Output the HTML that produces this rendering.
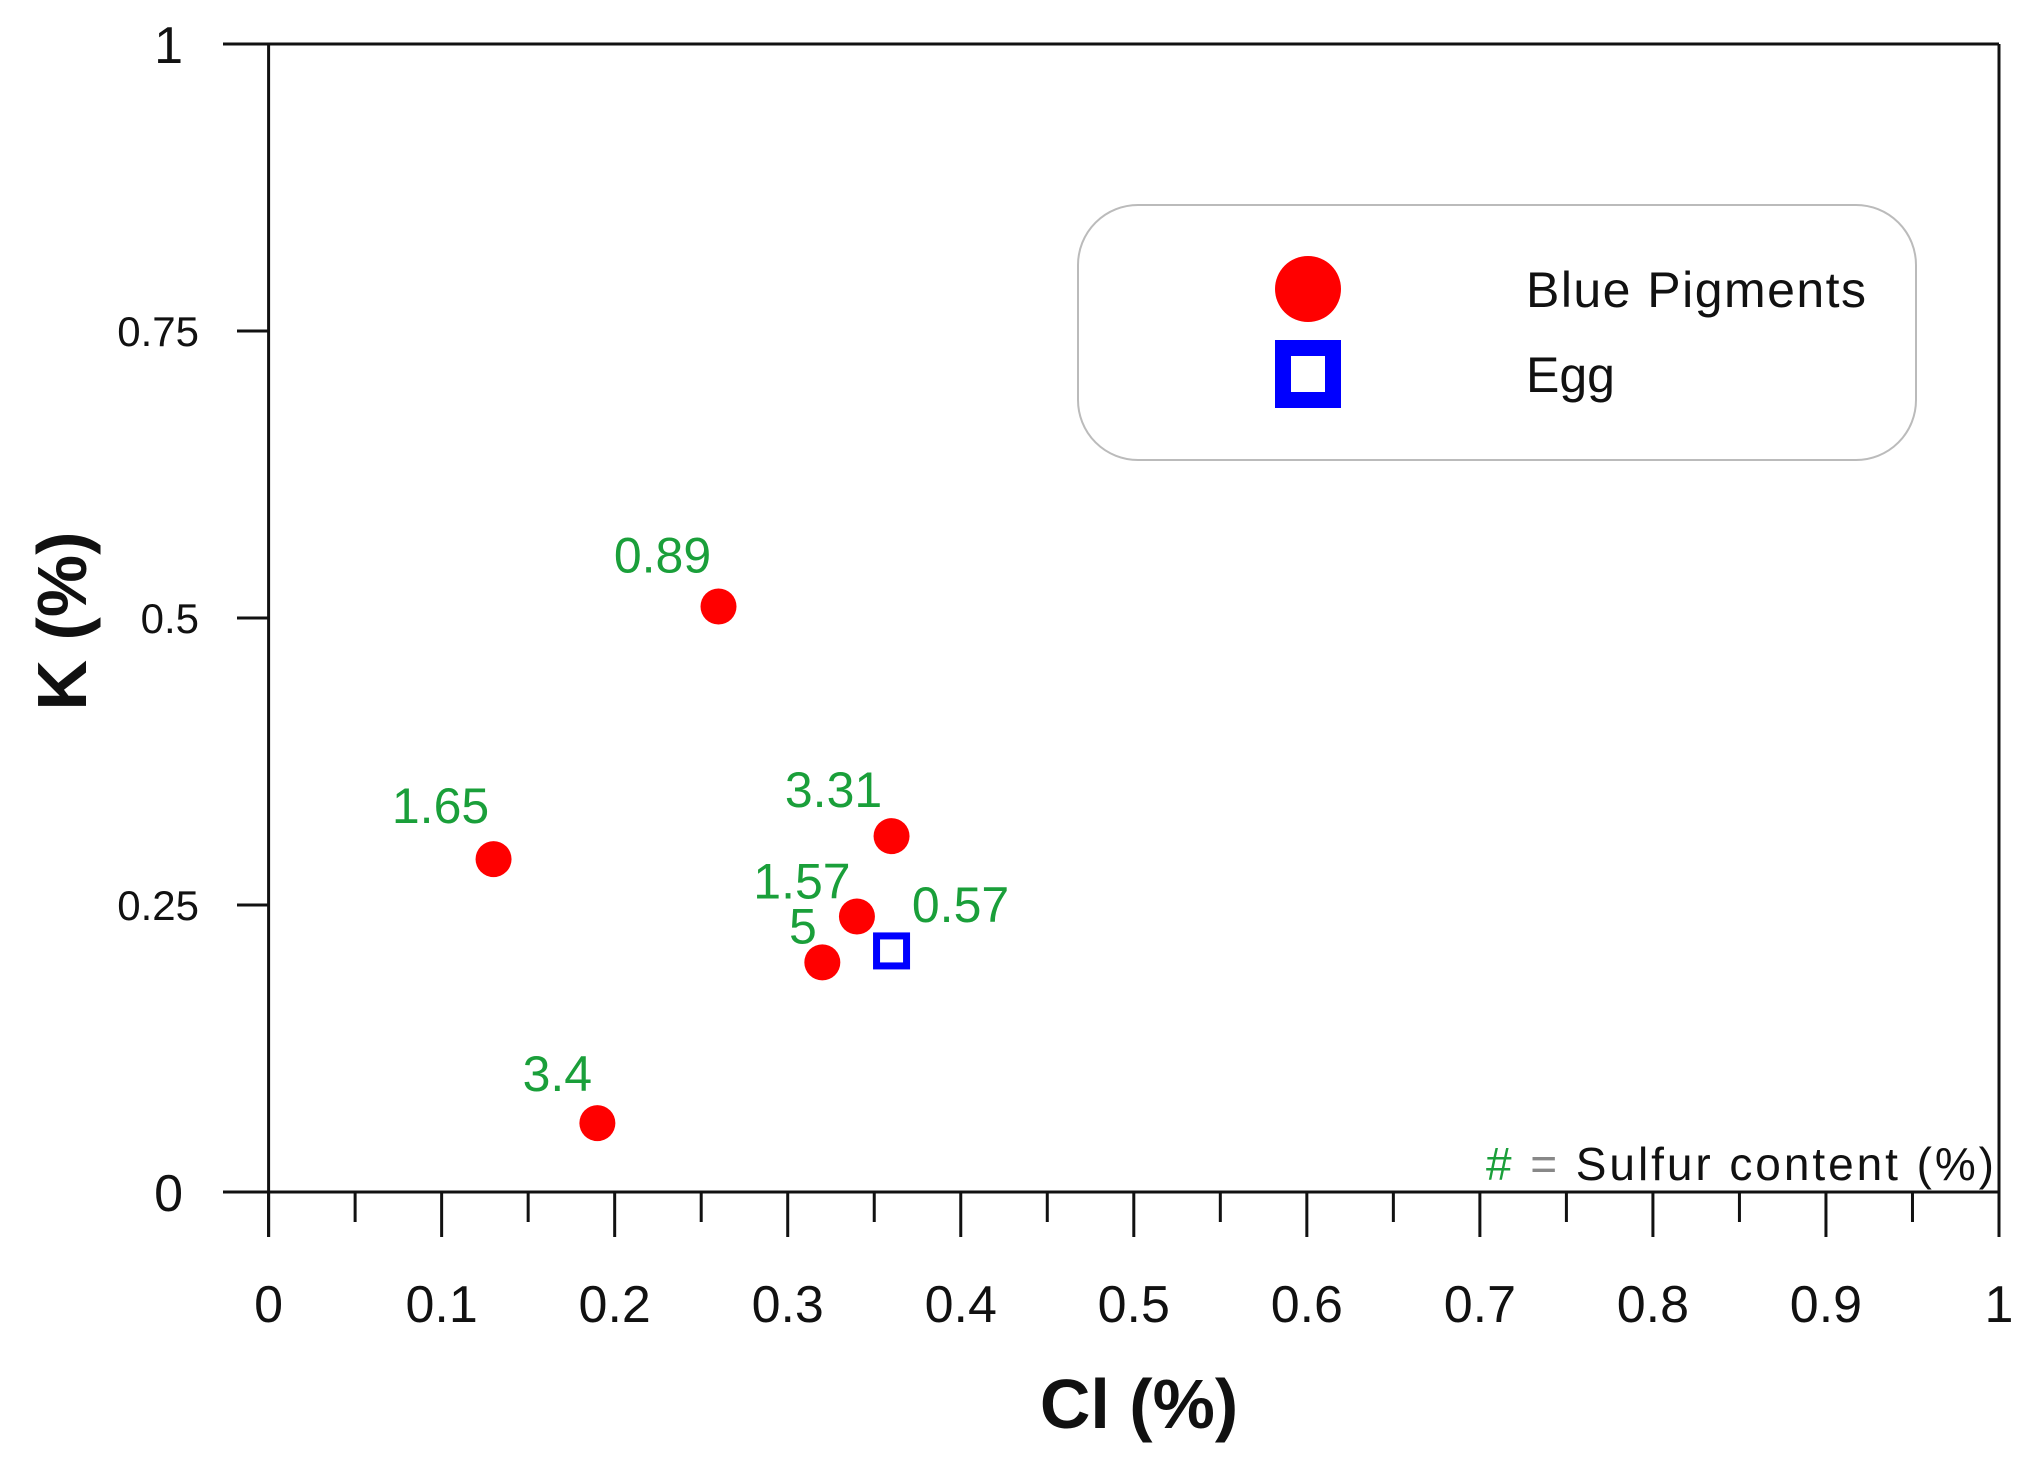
<!DOCTYPE html>
<html><head><meta charset="utf-8"><style>
html,body{margin:0;padding:0;background:#fff}
svg{display:block}
text{font-family:"Liberation Sans",Arial,sans-serif}
</style></head><body>
<svg id="chart" width="2037" height="1470" viewBox="0 0 2037 1470">
<g id="axes"></g>
<g id="marks"></g>
<g>
  <rect x="1078" y="205" width="838" height="255" rx="60" ry="60" fill="#fff" stroke="#bbb" stroke-width="2"/>
  <circle cx="1308" cy="289" r="33" fill="#ff0000"/>
  <text x="1526" y="307" font-size="50" fill="#111" textLength="340">Blue Pigments</text>
  <rect x="1283" y="348" width="50" height="52" fill="none" stroke="#0000ff" stroke-width="16"/>
  <text x="1526" y="392" font-size="50" fill="#111">Egg</text>
</g>
<text x="1994" y="1180" font-size="46" fill="#111" text-anchor="end" textLength="508"><tspan fill="#1a9f3a">#</tspan> <tspan fill="#888">=</tspan> Sulfur content (%)</text>
<text x="1139" y="1428" font-size="70" font-weight="bold" fill="#111" text-anchor="middle">Cl (%)</text>
<text transform="translate(86,621) rotate(-90)" font-size="70" font-weight="bold" fill="#111" text-anchor="middle">K (%)</text>
</svg>
<script>
const pigmentCl = [0.26, 0.13, 0.36, 0.34, 0.32, 0.19];
const pigmentK = [0.51, 0.29, 0.31, 0.24, 0.20, 0.06];
const eggCl = [0.36];
const eggK = [0.21];
const sulfurLabels = ["0.89", "1.65", "3.31", "1.57", "5", "3.4", "0.57"];
const xTicks = [0, 0.1, 0.2, 0.3, 0.4, 0.5, 0.6, 0.7, 0.8, 0.9, 1];
const xTickLabels = ["0", "0.1", "0.2", "0.3", "0.4", "0.5", "0.6", "0.7", "0.8", "0.9", "1"];
const yTicks = [0, 0.25, 0.5, 0.75, 1];
const yTickLabels = ["0", "0.25", "0.5", "0.75", "1"];

const NS = "http://www.w3.org/2000/svg";
const X0 = 268.6, X1 = 1999, Y0 = 1192, Y1 = 44;
const sx = v => X0 + v * (X1 - X0);
const sy = v => Y0 - v * (Y0 - Y1);
function mk(tag, attrs, parent, text) {
  const e = document.createElementNS(NS, tag);
  for (const k in attrs) e.setAttribute(k, attrs[k]);
  if (text !== undefined) e.textContent = text;
  parent.appendChild(e);
  return e;
}
const axes = document.getElementById("axes");
const marks = document.getElementById("marks");
let el;
el = mk("line", {x1: 223, y1: sy(0), x2: X1, y2: sy(0), stroke: "#111", "stroke-width": 3}, axes);


el = mk("line", {x1: 223, y1: sy(1), x2: X1, y2: sy(1), stroke: "#111", "stroke-width": 3}, axes);


el = mk("line", {x1: sx(0), y1: sy(1), x2: sx(0), y2: 1237, stroke: "#111", "stroke-width": 3}, axes);


el = mk("line", {x1: sx(1), y1: sy(1), x2: sx(1), y2: 1237, stroke: "#111", "stroke-width": 3}, axes);


xTicks.forEach((v, i) => {
  el = mk("line", {x1: sx(v), y1: sy(0), x2: sx(v), y2: 1237, stroke: "#111", "stroke-width": 3}, axes);
  
  
  if (i < xTicks.length - 1) {
    const m = (v + xTicks[i + 1]) / 2;
    el = mk("line", {x1: sx(m), y1: sy(0), x2: sx(m), y2: 1222, stroke: "#111", "stroke-width": 3}, axes);
    
    
  }
  el = mk("text", {x: sx(v), y: 1322, "font-size": 52, "text-anchor": "middle", fill: "#111"}, axes, xTickLabels[i]);
  
  
});
yTicks.forEach((v, i) => {
  if (v > 0 && v < 1) {
    el = mk("line", {x1: 237, y1: sy(v), x2: sx(0), y2: sy(v), stroke: "#111", "stroke-width": 3}, axes);
    
    
  }
  const big = (v === 0 || v === 1);
  el = mk("text", {x: big ? 183 : 199, y: sy(v) + (big ? 19 : 15), "font-size": big ? 52 : 42, "text-anchor": "end", fill: "#111"}, axes, yTickLabels[i]);
  
  
});
pigmentCl.forEach((c, i) => {
  el = mk("circle", {cx: sx(c), cy: sy(pigmentK[i]), r: 18, fill: "#ff0000"}, marks);
  
  
});
eggCl.forEach((c, i) => {
  el = mk("rect", {x: sx(c) - 15, y: sy(eggK[i]) - 15, width: 30, height: 30, fill: "#fff", stroke: "#0000ff", "stroke-width": 7}, marks);
  
  
});
const labelPts = [[pigmentCl[0], pigmentK[0], -56, -53], [pigmentCl[1], pigmentK[1], -53, -55], [pigmentCl[2], pigmentK[2], -58, -48],
  [pigmentCl[3], pigmentK[3], -55, -37], [pigmentCl[3], pigmentK[3], -54, 8], [pigmentCl[5], pigmentK[5], -40, -51], [eggCl[0], eggK[0], 69, -48]];
labelPts.forEach((p, i) => {
  el = mk("text", {x: sx(p[0]) + p[2], y: sy(p[1]) + p[3] + 19, "font-size": 50, "text-anchor": "middle", fill: "#1a9f3a"}, marks, sulfurLabels[i]);
  
  
});
</script>
</body></html>
